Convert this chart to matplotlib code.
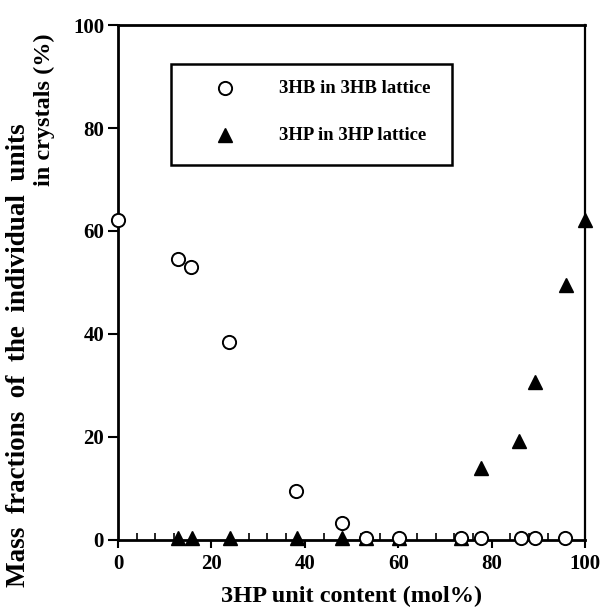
import matplotlib.pyplot as plt
from matplotlib.ticker import MultipleLocator

plt.rcParams["font.family"] = "Liberation Serif"
plt.rcParams["font.weight"] = "bold"
plt.rcParams["axes.labelweight"] = "bold"

# 3HB in 3HB lattice
hb_x = [0, 12.9, 15.7, 23.7, 38.2, 47.9, 53.0, 60.1, 73.5, 77.6, 86.2, 89.2, 95.7]
hb_y = [62.2, 54.5, 53.1, 38.5, 9.5, 3.2, 0.3, 0.3, 0.3, 0.3, 0.3, 0.3, 0.3]
# 3HP in 3HP lattice
hp_x = [12.9, 15.8, 23.9, 38.4, 47.9, 53.0, 60.1, 73.5, 77.8, 85.9, 89.2, 95.8, 100]
hp_y = [0.4, 0.4, 0.4, 0.4, 0.4, 0.4, 0.4, 0.4, 13.9, 19.2, 30.7, 49.5, 62.1]

fig = plt.figure(figsize=(6.02, 6.10), dpi=100)
ax = fig.add_axes([0.196, 0.1148, 0.776, 0.8442])

ax.plot(hp_x, hp_y, linestyle="none", marker="^", markersize=10,
        color="black", clip_on=False, zorder=3)
ax.plot(hb_x, hb_y, linestyle="none", marker="o", markersize=9.5,
        markerfacecolor="white", markeredgecolor="black",
        markeredgewidth=1.4, clip_on=False, zorder=4)

ax.set_xlim(0, 100)
ax.set_ylim(0, 100)
ax.xaxis.set_major_locator(MultipleLocator(20))
ax.xaxis.set_minor_locator(MultipleLocator(4))
ax.yaxis.set_major_locator(MultipleLocator(20))
ax.tick_params(axis="x", which="major", direction="out", length=6, width=1.5,
               labelsize=15, pad=4)
ax.tick_params(axis="x", which="minor", direction="in", length=5, width=1.2)
ax.tick_params(axis="y", which="major", direction="out", length=7, width=1.5,
               labelsize=15, pad=3)
for side in ["left", "bottom", "top"]:
    ax.spines[side].set_linewidth(2)
ax.spines["right"].set_linewidth(1.6)

ax.set_xlabel("3HP unit content (mol%)", fontsize=17.5, fontweight="bold",
              labelpad=9)

fig.text(0.030, 0.418, "Mass  fractions  of  the  individual  units",
         rotation=90, ha="center", va="center", fontsize=19.5,
         fontweight="bold")
fig.text(0.073, 0.821, "in crystals (%)",
         rotation=90, ha="center", va="center", fontsize=17.5,
         fontweight="bold")

# legend box drawn in data coordinates
ax.add_patch(plt.Rectangle((11.4, 72.8), 60.2, 19.6, fill=False,
                           linewidth=1.8, edgecolor="black", zorder=5))
ax.plot([23], [87.7], linestyle="none", marker="o", markersize=9.5,
        markerfacecolor="white", markeredgecolor="black", markeredgewidth=1.4)
ax.plot([23], [78.6], linestyle="none", marker="^", markersize=10,
        color="black")
ax.text(34.5, 87.7, "3HB in 3HB lattice", fontsize=13.5, fontweight="bold",
        va="center")
ax.text(34.5, 78.6, "3HP in 3HP lattice", fontsize=13.5, fontweight="bold",
        va="center")

fig.savefig("out.png", dpi=100)
